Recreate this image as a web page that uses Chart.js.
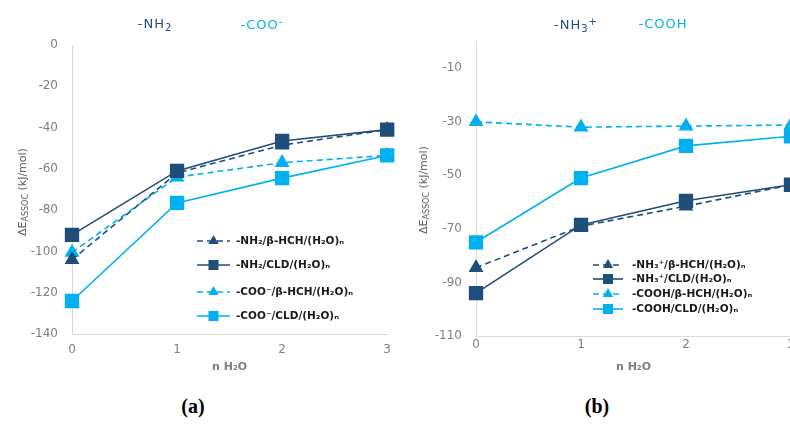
<!DOCTYPE html>
<html>
<head>
<meta charset="utf-8">
<script src="https://cdn.jsdelivr.net/npm/chart.js@4.4.1/dist/chart.umd.min.js"></script>
<style>
  html, body { margin:0; padding:0; background:#fff; width:790px; height:425px; overflow:hidden; position:relative; font-family:"DejaVu Sans", sans-serif; }
  .wrap { position:absolute; top:0; }
  .hdr { position:absolute; font-size:13px; transform:translateX(-50%); white-space:nowrap; top:16px; letter-spacing:1px; }
  .dark { color:#1f4e79; }
  .light { color:#00b0f0; }
  .ytitle { position:absolute; font-size:11px; color:#595959; white-space:nowrap; transform:translate(-50%,-50%) rotate(-90deg); }
  .ytitle sub { font-size:8px; vertical-align:-2px; }
  .hdr sub { font-size:10px; vertical-align:-3px; }
  .hdr sup { font-size:10px; vertical-align:4px; }
  .panel { position:absolute; top:395px; font-family:"Liberation Serif", serif; font-weight:bold; font-size:20px; transform:translateX(-50%); color:#000; }
</style>
</head>
<body>
<div class="wrap" style="left:0;width:400px;height:390px;"><canvas id="cA"></canvas></div>
<div class="wrap" style="left:390px;width:415px;height:390px;"><canvas id="cB"></canvas></div>

<div class="hdr dark" style="left:155px;">-NH<sub>2</sub></div>
<div class="hdr light" style="left:262px;">-COO<sup>-</sup></div>
<div class="hdr dark" style="left:576px;">-NH<sub>3</sub><sup>+</sup></div>
<div class="hdr light" style="left:663px;">-COOH</div>

<div class="ytitle" style="left:23px;top:192px;">ΔE<sub>ASSOC</sub> (kJ/mol)</div>
<div class="ytitle" style="left:424px;top:190px;">ΔE<sub>ASSOC</sub> (kJ/mol)</div>

<div class="panel" style="left:193px;">(a)</div>
<div class="panel" style="left:597px;">(b)</div>

<script>
// ---- data ----
const nWater = [0, 1, 2, 3];
const xTicks = [0, 1, 2, 3];

// panel (a)
const aLabels = ['-NH₂/β-HCH/(H₂O)ₙ', '-NH₂/CLD/(H₂O)ₙ', '-COO⁻/β-HCH/(H₂O)ₙ', '-COO⁻/CLD/(H₂O)ₙ'];
const aNH2_HCH = [-104, -62, -48.5, -41];
const aNH2_CLD = [-92, -61, -46.5, -41];
const aCOO_HCH = [-100.5, -64, -57, -53.5];
const aCOO_CLD = [-124, -76.5, -64.5, -53.5];
const aYTicks = [-140, -120, -100, -80, -60, -40, -20, 0];

// panel (b)
const bLabels = ['-NH₃⁺/β-HCH/(H₂O)ₙ', '-NH₃⁺/CLD/(H₂O)ₙ', '-COOH/β-HCH/(H₂O)ₙ', '-COOH/CLD/(H₂O)ₙ'];
const bNH3_HCH = [-84.5, -69, -61.5, -53.5];
const bNH3_CLD = [-94, -68.5, -59.5, -53.5];
const bCOOH_HCH = [-30, -32, -31.6, -31.2];
const bCOOH_CLD = [-75, -51, -39, -35.4];
const bYTicks = [-110, -90, -70, -50, -30, -10];

const DARK = '#1f4e79';
const LIGHT = '#00b0f0';

function pts(arr) { return arr.map((v, i) => ({x: nWater[i], y: v})); }

function ds(label, data, color, dashed, style, r) {
  return {
    label, data: pts(data),
    borderColor: color, backgroundColor: color,
    pointBackgroundColor: color, pointBorderColor: color,
    borderWidth: 1.6, borderDash: dashed ? [6, 4] : [],
    pointStyle: style, pointRadius: r, pointHoverRadius: r,
    tension: 0, fill: false, clip: false,
    order: style === 'rect' ? 1 : 2
  };
}

function legendPlugin(cfg) {
  return {
    id: 'inlineLegend',
    afterDatasetsDraw(chart) {
      const ctx = chart.ctx;
      ctx.save();
      chart.data.datasets.forEach((d, i) => {
        const y = cfg.rows[i];
        ctx.strokeStyle = d.borderColor;
        ctx.lineWidth = 1.6;
        ctx.setLineDash(d.borderDash.length ? [6, 4] : []);
        ctx.beginPath();
        ctx.moveTo(cfg.x0, y); ctx.lineTo(cfg.x1, y);
        ctx.stroke();
        ctx.setLineDash([]);
        ctx.fillStyle = d.borderColor;
        const cx = (cfg.x0 + cfg.x1) / 2;
        ctx.beginPath();
        if (d.pointStyle === 'rect') {
          const s = cfg.sq;
          ctx.rect(cx - s / 2, y - s / 2, s, s);
        } else {
          const r = cfg.tri;
          ctx.moveTo(cx, y - r);
          ctx.lineTo(cx + r * 0.866, y + r * 0.5);
          ctx.lineTo(cx - r * 0.866, y + r * 0.5);
          ctx.closePath();
        }
        ctx.fill();
        ctx.fillStyle = '#1a1a1a';
        ctx.font = cfg.font;
        ctx.textBaseline = 'middle';
        ctx.textAlign = 'left';
        ctx.fillText(d.label, cfg.tx, y);
      });
      ctx.restore();
    }
  };
}

function makeChart(id, datasets, yMin, yMax, yTicks, geo, legendCfg) {
  return new Chart(document.getElementById(id), {
    type: 'line',
    data: { datasets },
    options: {
      responsive: true, maintainAspectRatio: false, animation: false,
      layout: { padding: { top: geo.top, right: geo.right, left: 0, bottom: 0 } },
      plugins: { legend: { display: false }, tooltip: { enabled: false } },
      scales: {
        x: {
          type: 'linear', min: 0, max: 3,
          afterBuildTicks: s => { s.ticks = xTicks.map(v => ({value: v})); },
          afterFit: s => { s.height = geo.xh; },
          grid: { display: true, drawOnChartArea: false, drawTicks: false },
          border: { display: true, color: '#d9d9d9', width: 1 },
          ticks: { color: '#7f7f7f', font: { family: 'DejaVu Sans', size: 12 }, padding: geo.xpad },
          title: { display: true, text: 'n H₂O', color: '#7f7f7f', font: { family: 'DejaVu Sans', size: 11, weight: 'bold' }, padding: { top: 0, bottom: geo.tpad } }
        },
        y: {
          type: 'linear', min: yMin, max: yMax,
          afterBuildTicks: s => { s.ticks = yTicks.map(v => ({value: v})); },
          afterFit: s => { s.width = geo.yw; },
          grid: { display: true, drawOnChartArea: false, drawTicks: false },
          border: { display: true, color: '#d9d9d9', width: 1 },
          ticks: { color: '#7f7f7f', font: { family: 'DejaVu Sans', size: 12 }, padding: geo.ypad }
        }
      }
    },
    plugins: [legendPlugin(legendCfg)]
  });
}

makeChart('cA', [
  ds(aLabels[0], aNH2_HCH, DARK, true, 'triangle', 7),
  ds(aLabels[1], aNH2_CLD, DARK, false, 'rect', 9),
  ds(aLabels[2], aCOO_HCH, LIGHT, true, 'triangle', 7),
  ds(aLabels[3], aCOO_CLD, LIGHT, false, 'rect', 9)
], -140, 0, aYTicks,
  { top: 45, right: 12, xh: 56, yw: 72, xpad: 9, ypad: 14, tpad: 16 },
  { x0: 197, x1: 230, tx: 236, rows: [241, 265, 292, 316], sq: 10, tri: 6, font: 'bold 10.5px "DejaVu Sans"' });

makeChart('cB', [
  ds(bLabels[0], bNH3_HCH, DARK, true, 'triangle', 7),
  ds(bLabels[1], bNH3_CLD, DARK, false, 'rect', 9),
  ds(bLabels[2], bCOOH_HCH, LIGHT, true, 'triangle', 7),
  ds(bLabels[3], bCOOH_CLD, LIGHT, false, 'rect', 9)
], -110, 0, bYTicks,
  { top: 41.5, right: 14, xh: 54, yw: 86, xpad: 2, ypad: 14, tpad: 16 },
  { x0: 203, x1: 233, tx: 242, rows: [265, 279, 294, 309], sq: 10, tri: 6, font: 'bold 10.5px "DejaVu Sans"' });
</script>
</body>
</html>
